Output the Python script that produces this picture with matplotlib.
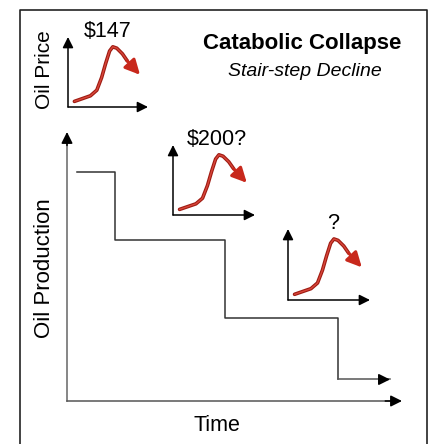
import numpy as np
import matplotlib.pyplot as plt
from matplotlib.lines import Line2D

plt.rcParams['font.family'] = ['Liberation Sans', 'DejaVu Sans']

# stair-step decline of oil production (time vs level, arbitrary units)
step_times = [0.3, 1.43, 4.72, 8.09, 9.64]
production = [8.5, 6.0, 3.1, 0.8]

# shape of each oil price spike (fraction of inset axes)
price_x = [0.08, 0.18, 0.28, 0.36, 0.42, 0.47, 0.52, 0.56, 0.61, 0.68, 0.74, 0.80]
price_y = [0.08, 0.12, 0.16, 0.24, 0.42, 0.62, 0.80, 0.86, 0.84, 0.76, 0.66, 0.56]
price_labels = ['$147', '$200?', '?']
label_x = [0.5, 0.54, 0.55]

W, H = 432, 444


def fig_box(x0, y0, x1, y1):
    # pixel box (top-left origin) -> figure fraction rect
    return [x0 / W, 1 - y1 / H, (x1 - x0) / W, (y1 - y0) / H]


fig = plt.figure(figsize=(4.32, 4.44), dpi=100)

# outer frame (left, top, right)
frame_x = [19.5 / W, 19.5 / W, 427 / W, 427 / W]
frame_y = [0, 1 - 10 / H, 1 - 10 / H, 0]
fig.add_artist(Line2D(frame_x, frame_y, color='#222222', lw=1.2))

# main chart
ax = fig.add_axes(fig_box(67, 132, 402, 401))
ax.set_xlim(0, 10)
ax.set_ylim(0, 10)
ax.axis('off')
head_kw = dict(arrowstyle='-|>', color='black', lw=1.1, mutation_scale=17,
               shrinkA=0, shrinkB=0)
ax.plot([0, 0], [0, 0.98], color='#666666', lw=1.1, transform=ax.transAxes, clip_on=False)
ax.plot([0, 0.98], [0, 0], color='#555555', lw=1.1, transform=ax.transAxes, clip_on=False)
ax.annotate('', xy=(0, 1), xytext=(0, 0.95), xycoords='axes fraction', arrowprops=head_kw)
ax.annotate('', xy=(1, 0), xytext=(0.95, 0), xycoords='axes fraction', arrowprops=head_kw)

xs, ys = [], []
for i, lvl in enumerate(production):
    xs += [step_times[i], step_times[i + 1]]
    ys += [lvl, lvl]
ax.plot(xs[:-1], ys[:-1], color='#333333', lw=1.1)
ax.plot(xs[-2:], ys[-2:], color='#555555', lw=1.1)
ax.annotate('', xy=(xs[-1], ys[-1]), xytext=(xs[-1] - 0.3, ys[-1]), arrowprops=head_kw)

fig.text(45 / W, 1 - 268 / H, 'Oil Production', rotation=90, ha='center', va='center',
         fontsize=16)
fig.text(217 / W, 1 - 425 / H, 'Time', ha='center', va='center', fontsize=15.5)

# price insets
inset_boxes = [(68, 37, 148, 107), (173, 145, 255, 215), (288, 229, 370, 300)]
for box, lab, lx in zip(inset_boxes, price_labels, label_x):
    iax = fig.add_axes(fig_box(*box))
    iax.set_xlim(0, 1)
    iax.set_ylim(0, 1)
    iax.axis('off')
    ikw = dict(arrowstyle='-|>', color='black', lw=1.1, mutation_scale=16,
               shrinkA=0, shrinkB=0)
    iax.annotate('', xy=(0, 1), xytext=(0, 0), xycoords='axes fraction', arrowprops=ikw)
    iax.annotate('', xy=(1, 0), xytext=(0, 0), xycoords='axes fraction', arrowprops=ikw)
    iax.plot(price_x[:-1], price_y[:-1], color='#9e1b12', lw=2.6, solid_capstyle='round')
    iax.plot(price_x[:-1], price_y[:-1], color='#d8463a', lw=1.0, solid_capstyle='round')
    iax.annotate('', xy=(price_x[-1] + 0.1, price_y[-1] - 0.1),
                 xytext=(price_x[-2], price_y[-2]),
                 arrowprops=dict(arrowstyle='-|>', color='#c8281c', lw=2.2,
                                 mutation_scale=22, shrinkA=0, shrinkB=0))
    iax.text(lx, 1.08, lab, ha='center', va='center', fontsize=15.5,
             transform=iax.transAxes, clip_on=False)

fig.text(45 / W, 1 - 70 / H, 'Oil Price', rotation=90, ha='center', va='center',
         fontsize=15)
fig.text(302 / W, 1 - 43 / H, 'Catabolic Collapse', ha='center', va='center',
         fontsize=16, fontweight='bold')
fig.text(305 / W, 1 - 71 / H, 'Stair-step Decline', ha='center', va='center',
         fontsize=14, fontstyle='italic')

fig.savefig('out.png', dpi=100)
